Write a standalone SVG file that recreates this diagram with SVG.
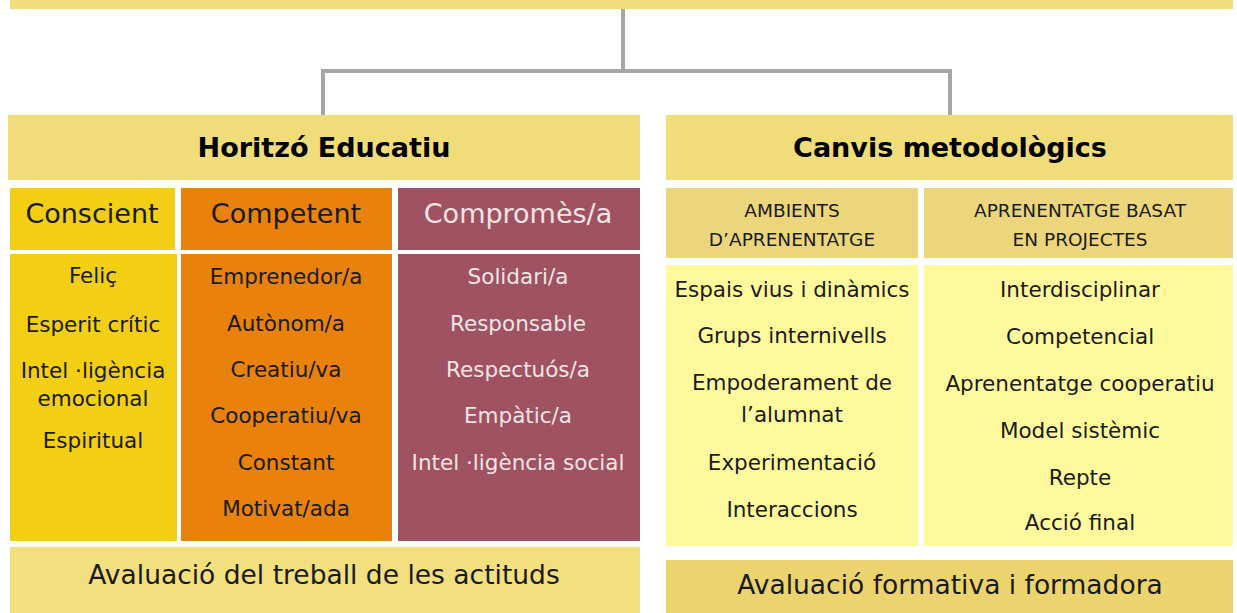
<svg xmlns="http://www.w3.org/2000/svg" width="1237" height="613" viewBox="0 0 1237 613">
<style>
text{font-family:"DejaVu Sans","Liberation Sans",sans-serif;text-anchor:middle;fill:#1a1a1a}
.h{font-size:27px;font-weight:bold;fill:#000}
.c{font-size:27px}
.b{font-size:21.5px}
.s{font-size:18.5px}
.a{font-size:26.5px}
.w{fill:#f3e4e6}
.ln{fill:none;stroke:#a6a6a6;stroke-width:4}
</style>
<rect width="1237" height="613" fill="#fff"/>
<g id="top"><rect x="10" y="0" width="1223" height="9" fill="#f0dc78"/></g>
<g id="connectors">
<path class="ln" d="M623 9V71M323 71H950M323 69V116M950 69V116"/>
</g>
<g id="horitzo"><rect x="8" y="115" width="632" height="65" fill="#f0dc78"/><text class="h" x="324" y="157">Horitzó Educatiu</text></g>
<g id="canvis"><rect x="666" y="115" width="567" height="65" fill="#f0dc78"/><text class="h" x="950" y="157">Canvis metodològics</text></g>
<g id="conscient">
<rect x="10" y="188" width="165" height="62" fill="#f2cf14"/><text class="c" x="92" y="223">Conscient</text>
<rect x="10" y="254" width="167" height="287" fill="#f2cf14"/>
<text class="b" x="93" y="283">Feliç</text>
<text class="b" x="93" y="332">Esperit crític</text>
<text class="b" x="93" y="378">Intel ·ligència</text>
<text class="b" x="93" y="406">emocional</text>
<text class="b" x="93" y="448">Espiritual</text>
</g>
<g id="competent">
<rect x="181" y="188" width="211" height="62" fill="#e8820c"/><text class="c" x="286" y="223">Competent</text>
<rect x="181" y="254" width="211" height="287" fill="#e8820c"/>
<text class="b" x="286" y="284">Emprenedor/a</text>
<text class="b" x="286" y="331">Autònom/a</text>
<text class="b" x="286" y="377">Creatiu/va</text>
<text class="b" x="286" y="423">Cooperatiu/va</text>
<text class="b" x="286" y="470">Constant</text>
<text class="b" x="286" y="516">Motivat/ada</text>
</g>
<g id="compromes">
<rect x="398" y="188" width="242" height="62" fill="#9e5262"/><text class="c w" x="518" y="223">Compromès/a</text>
<rect x="398" y="254" width="242" height="287" fill="#9e5262"/>
<text class="b w" x="518" y="284">Solidari/a</text>
<text class="b w" x="518" y="331">Responsable</text>
<text class="b w" x="518" y="377">Respectuós/a</text>
<text class="b w" x="518" y="423">Empàtic/a</text>
<text class="b w" x="518" y="470">Intel ·ligència social</text>
</g>
<g id="aval1"><rect x="10" y="547" width="630" height="66" fill="#f1df80"/><text class="a" x="324" y="584">Avaluació del treball de les actituds</text></g>
<g id="ambients">
<rect x="666" y="188" width="252" height="70" fill="#ecd67c"/>
<text class="s" x="792" y="217">AMBIENTS</text><text class="s" x="792" y="246">D’APRENENTATGE</text>
<rect x="666" y="265" width="252" height="281" fill="#fef99c"/>
<text class="b" x="792" y="297">Espais vius i dinàmics</text>
<text class="b" x="792" y="343">Grups internivells</text>
<text class="b" x="792" y="390">Empoderament de</text>
<text class="b" x="792" y="422">l’alumnat</text>
<text class="b" x="792" y="470">Experimentació</text>
<text class="b" x="792" y="517">Interaccions</text>
</g>
<g id="abp">
<rect x="924" y="188" width="309" height="70" fill="#ecd67c"/>
<text class="s" x="1080" y="217">APRENENTATGE BASAT</text><text class="s" x="1080" y="246">EN PROJECTES</text>
<rect x="924" y="265" width="309" height="281" fill="#fef99c"/>
<text class="b" x="1080" y="297">Interdisciplinar</text>
<text class="b" x="1080" y="344">Competencial</text>
<text class="b" x="1080" y="391">Aprenentatge cooperatiu</text>
<text class="b" x="1080" y="438">Model sistèmic</text>
<text class="b" x="1080" y="485">Repte</text>
<text class="b" x="1080" y="530">Acció final</text>
</g>
<g id="aval2"><rect x="666" y="560" width="567" height="53" fill="#ebd36e"/><text class="a" x="950" y="594">Avaluació formativa i formadora</text></g>
</svg>
